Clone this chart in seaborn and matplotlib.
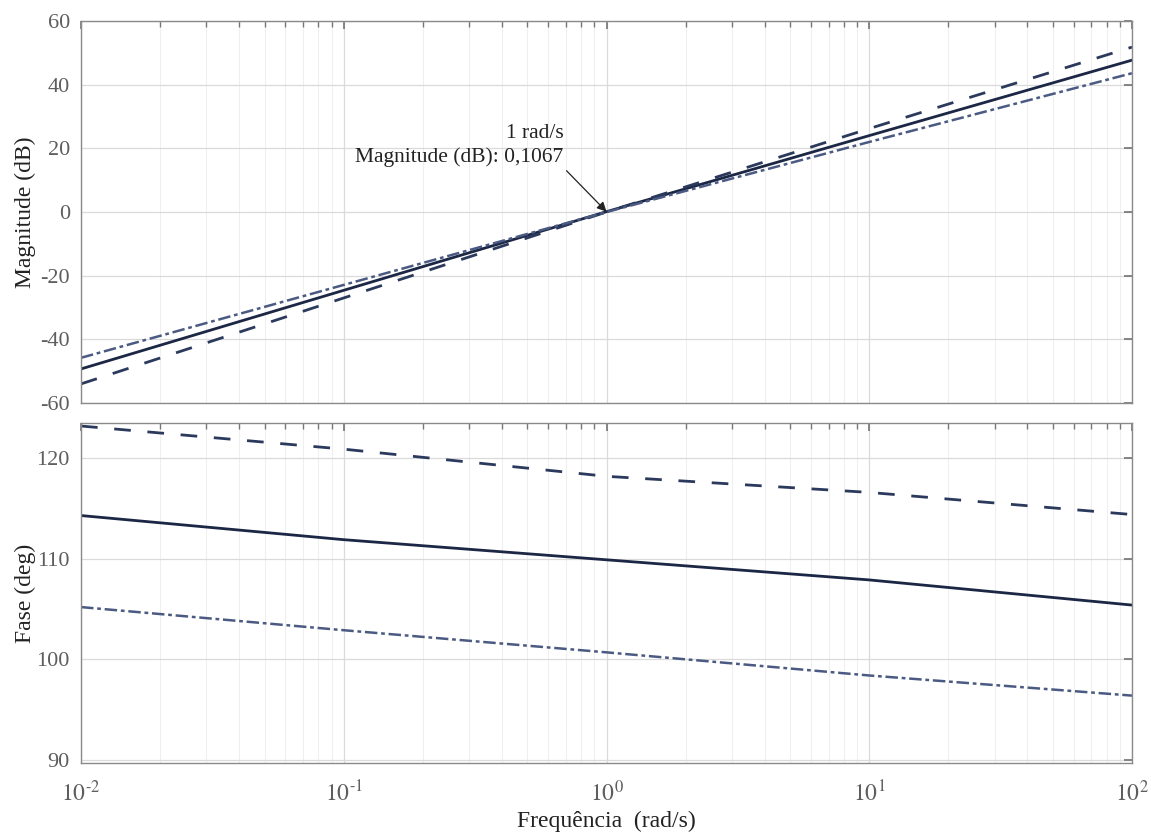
import numpy as np
import pandas as pd
import matplotlib
matplotlib.use("Agg")
import matplotlib.pyplot as plt
import seaborn as sns
from matplotlib.ticker import LogLocator, NullFormatter, FixedLocator

# ---- data ----
freq = [0.01, 0.1, 1.0, 10.0, 100.0]
mag_solid = [-49.3, -24.6, 0.1067, 24.0, 47.7]
mag_dashed = [-54.0, -27.0, 0.0, 26.2, 51.8]
mag_dashdot = [-45.8, -22.9, 0.0, 22.0, 43.6]
phase_solid = [114.3, 111.9, 109.9, 107.9, 105.4]
phase_dashed = [123.2, 120.9, 118.2, 116.6, 114.4]
phase_dashdot = [105.2, 102.9, 100.7, 98.4, 96.4]

mag_ticks = [-60, -40, -20, 0, 20, 40, 60]
phase_ticks = [90, 100, 110, 120]
x_ticks = [0.01, 0.1, 1, 10, 100]
x_ticklabels = [r"$10^{\text{-}2}$", r"$10^{\text{-}1}$", "$10^{0}$", "$10^{1}$", "$10^{2}$"]

sns.set_theme(style="white")
plt.rcParams["font.family"] = ["Liberation Serif", "DejaVu Serif"]
plt.rcParams["mathtext.fontset"] = "stix"
plt.rcParams["axes.unicode_minus"] = False

W, H = 1151, 832
fig = plt.figure(figsize=(W / 100, H / 100), dpi=100)
ax1 = fig.add_axes([81 / W, 1 - 403 / H, (1132 - 81) / W, (403 - 21) / H])
ax2 = fig.add_axes([81 / W, 1 - 763 / H, (1132 - 81) / W, (763 - 423) / H])

styles = [("solid", "-", "#1c2645", 2.0),
          ("dashed", (0, (6, 6)), "#2b3a5c", 2.0),
          ("dashdot", (0, (5, 1.5, 1.5, 1.5)), "#4b5a82", 1.8)]

mag = {"solid": mag_solid, "dashed": mag_dashed, "dashdot": mag_dashdot}
pha = {"solid": phase_solid, "dashed": phase_dashed, "dashdot": phase_dashdot}

for name, ls, col, lw in styles:
    df = pd.DataFrame({"f": freq, "m": mag[name], "p": pha[name]})
    sns.lineplot(data=df, x="f", y="m", ax=ax1, color=col, linestyle=ls, lw=lw)
    sns.lineplot(data=df, x="f", y="p", ax=ax2, color=col, linestyle=ls, lw=lw)

tick_col = "#5e5e5e"
for ax in (ax1, ax2):
    ax.set_xscale("log")
    ax.set_xlim(0.01, 100)
    ax.xaxis.set_major_locator(FixedLocator(x_ticks))
    ax.xaxis.set_minor_locator(LogLocator(base=10, subs=np.arange(2, 10)))
    ax.xaxis.set_minor_formatter(NullFormatter())
    ax.grid(True, which="major", color="#dadada", lw=0.9)
    ax.grid(True, which="minor", axis="x", color="#efefef", lw=0.8)
    ax.tick_params(which="both", direction="in", top=True, right=True,
                   colors="#777777", labelcolor=tick_col, labelsize=16)
    ax.tick_params(which="major", length=6)
    ax.tick_params(which="minor", length=4)
    ax.tick_params(axis="y", pad=8)
    for s in ax.spines.values():
        s.set_color("#8a8a8a")
        s.set_linewidth(1.0)
    ax.set_xlabel("")

ax1.set_ylim(-60, 60)
ax1.set_yticks(mag_ticks)
ax1.set_xticklabels([])
ax1.set_ylabel("Magnitude (dB)", fontsize=17, color="#222222")

ax2.set_ylim(89.7, 123.5)
ax2.set_yticks(phase_ticks)
ax2.set_xticklabels(x_ticklabels, fontsize=17)
ax2.tick_params(axis="x", pad=13)
ax2.set_ylabel("Fase (deg)", fontsize=17, color="#222222")
ax2.set_xlabel("Frequência  (rad/s)", fontsize=17, color="#222222", labelpad=3)

ax1.yaxis.set_label_coords(-0.043, 0.5)
ax2.yaxis.set_label_coords(-0.043, 0.5)

ax1.annotate("1 rad/s\nMagnitude (dB): 0,1067", xy=(1.0, mag_solid[2]),
             xytext=(0.685, 14.0), textcoords="data",
             ha="right", va="bottom", fontsize=15.5, color="#222222",
             multialignment="right", linespacing=1.35,
             arrowprops=dict(arrowstyle="-|>", color="#222222", lw=0.9,
                             relpos=(1.0, 0.0),
                             shrinkA=0, shrinkB=0, mutation_scale=14))

fig.savefig("out.png", dpi=100)
